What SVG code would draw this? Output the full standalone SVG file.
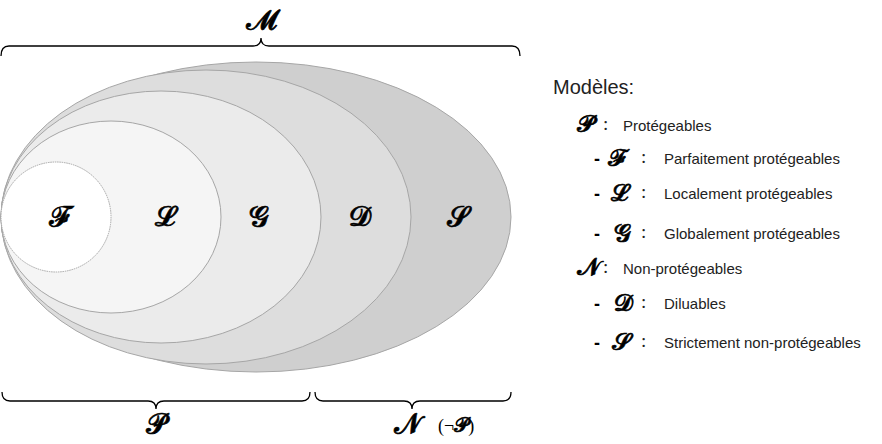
<svg xmlns="http://www.w3.org/2000/svg" width="882" height="444" viewBox="0 0 882 444">
<style>
.set{stroke:#a6a6a6;stroke-width:1}
.math{font-family:"DejaVu Serif","Noto Sans","Liberation Serif",serif;fill:#000;stroke:#000;stroke-width:0.7}
.txt{font-family:"Liberation Sans",Arial,sans-serif;fill:#222}
.brace{fill:none;stroke:#000;stroke-width:1.3}
.lbl{font-size:28px;text-anchor:middle}
.sym{font-size:24px;text-anchor:middle}
.dash{font-family:"Liberation Sans",sans-serif;font-weight:bold;font-size:18px;fill:#000}
.col{font-family:"Liberation Serif",serif;font-size:19px;fill:#222}
</style>
<rect width="882" height="444" fill="#fff"/>
<g id="sets">
<g id="S"><ellipse class="set" cx="256" cy="217" rx="255" ry="155" fill="#cfcfcf"/><text class="math lbl" x="458" y="226">𝓢</text></g>
<g id="D"><ellipse class="set" cx="206" cy="217" rx="205" ry="147" fill="#dddddd"/><text class="math lbl" x="359" y="226">𝓓</text></g>
<g id="G"><ellipse class="set" cx="161" cy="217" rx="160" ry="126" fill="#ebebeb"/><text class="math lbl" x="259" y="226">𝓖</text></g>
<g id="L"><ellipse class="set" cx="111" cy="217" rx="110" ry="96" fill="#f5f5f5"/><text class="math lbl" x="165" y="226">𝓛</text></g>
<g id="F"><ellipse class="set" cx="56" cy="217" rx="55" ry="55" fill="#ffffff" stroke="#777" stroke-dasharray="1.5 0.8"/><text class="math lbl" x="59" y="226">𝓕</text></g>
</g>
<g id="braces">
<path class="brace" d="M1,56 Q1,46 9,46 L253,46 Q261,46 261,38 Q261,46 269,46 L512,46 Q520,46 520,56"/>
<path class="brace" d="M2,392 Q2,401 10,401 L148,401 Q156,401 156,409 Q156,401 164,401 L302,401 Q310,401 310,392"/>
<path class="brace" d="M315,392 Q315,401 323,401 L404,401 Q412,401 412,409 Q412,401 420,401 L503,401 Q511,401 511,392"/>
</g>
<g id="M-label"><text class="math lbl" x="261" y="29">𝓜</text></g>
<g id="P-label"><text class="math lbl" x="156" y="433">𝓟</text></g>
<g id="N-label"><text class="math lbl" x="407" y="433">𝓝</text><text x="438" y="432" font-family="Liberation Serif,serif" font-size="18" fill="#000">(¬<tspan class="math" font-size="20" stroke-width="0.4">𝓟</tspan>)</text></g>
<g id="legend">
<text class="txt" x="553" y="94" font-size="20">Modèles:</text>
<text class="math sym" x="585" y="132">𝓟</text><text class="col" x="603" y="130">:</text><text class="txt" x="623" y="131" font-size="15">Protégeables</text>
<text class="dash" x="594" y="165">-</text><text class="math sym" x="617" y="166">𝓕</text><text class="col" x="641" y="163">:</text><text class="txt" x="664" y="164" font-size="15">Parfaitement protégeables</text>
<text class="dash" x="594" y="200">-</text><text class="math sym" x="619" y="201">𝓛</text><text class="col" x="641" y="198">:</text><text class="txt" x="664" y="199" font-size="15">Localement protégeables</text>
<text class="dash" x="594" y="240">-</text><text class="math sym" x="622" y="241">𝓖</text><text class="col" x="641" y="238">:</text><text class="txt" x="664" y="239" font-size="15">Globalement protégeables</text>
<text class="math sym" x="588" y="275">𝓝</text><text class="col" x="603" y="273">:</text><text class="txt" x="623" y="274" font-size="15">Non-protégeables</text>
<text class="dash" x="594" y="310">-</text><text class="math sym" x="623" y="311">𝓓</text><text class="col" x="641" y="308">:</text><text class="txt" x="664" y="309" font-size="15">Diluables</text>
<text class="dash" x="594" y="349">-</text><text class="math sym" x="621" y="350">𝓢</text><text class="col" x="641" y="347">:</text><text class="txt" x="664" y="348" font-size="15">Strictement non-protégeables</text>
</g>
</svg>
